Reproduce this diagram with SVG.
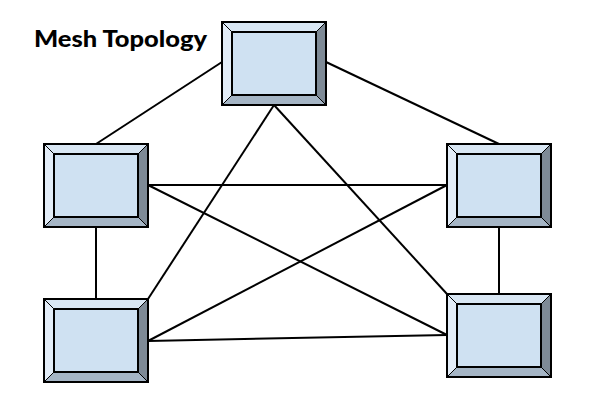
<svg xmlns="http://www.w3.org/2000/svg" xmlns:xlink="http://www.w3.org/1999/xlink" width="600" height="400" viewBox="0 0 600 400">
<style>
.link{stroke:#000;stroke-width:2;fill:none}
.bt{fill:#d9e7f4}.bl{fill:#e3edf8}.br{fill:#7e8a96}.bb{fill:#a5b5c5}
.face{fill:#cfe1f2;stroke:#000;stroke-width:2}
.title{font-family:Lato,"Noto Sans",sans-serif;font-weight:900;font-size:22px;fill:#000}
</style>
<defs>
<g id="box">
<polygon class="bt" points="0,0 104,0 94,10 10,10"/>
<polygon class="bl" points="0,0 10,10 10,73 0,83"/>
<polygon class="br" points="104,0 104,83 94,73 94,10"/>
<polygon class="bb" points="0,83 10,73 94,73 104,83"/>
<g stroke="#000" stroke-width="1"><line x1="0" y1="0" x2="10" y2="10"/><line x1="104" y1="0" x2="94" y2="10"/><line x1="0" y1="83" x2="10" y2="73"/><line x1="104" y1="83" x2="94" y2="73"/></g>
<rect class="face" x="10" y="10" width="84" height="63"/>
<rect x="0" y="0" width="104" height="83" fill="none" stroke="#000" stroke-width="2"/>
</g>
</defs>
<rect width="600" height="400" fill="#fff"/>
<text class="title" x="34" y="47" textLength="173" lengthAdjust="spacingAndGlyphs">Mesh Topology</text>
<g id="connectors">
<line class="link" x1="222" y1="62" x2="96" y2="144"/>
<line class="link" x1="326" y1="62" x2="499" y2="144"/>
<line class="link" x1="274" y1="105" x2="148" y2="299"/>
<line class="link" x1="274" y1="105" x2="447" y2="294"/>
<line class="link" x1="148" y1="185" x2="447" y2="185"/>
<line class="link" x1="148" y1="185" x2="447" y2="335"/>
<line class="link" x1="148" y1="341" x2="447" y2="185"/>
<line class="link" x1="148" y1="341" x2="447" y2="335"/>
<line class="link" x1="96" y1="227" x2="96" y2="299"/>
<line class="link" x1="499" y1="227" x2="499" y2="294"/>
</g>
<g id="node-top" transform="translate(222,22)"><use xlink:href="#box"/></g>
<g id="node-left-top" transform="translate(44,144)"><use xlink:href="#box"/></g>
<g id="node-right-top" transform="translate(447,144)"><use xlink:href="#box"/></g>
<g id="node-left-bottom" transform="translate(44,299)"><use xlink:href="#box"/></g>
<g id="node-right-bottom" transform="translate(447,294)"><use xlink:href="#box"/></g>
</svg>
